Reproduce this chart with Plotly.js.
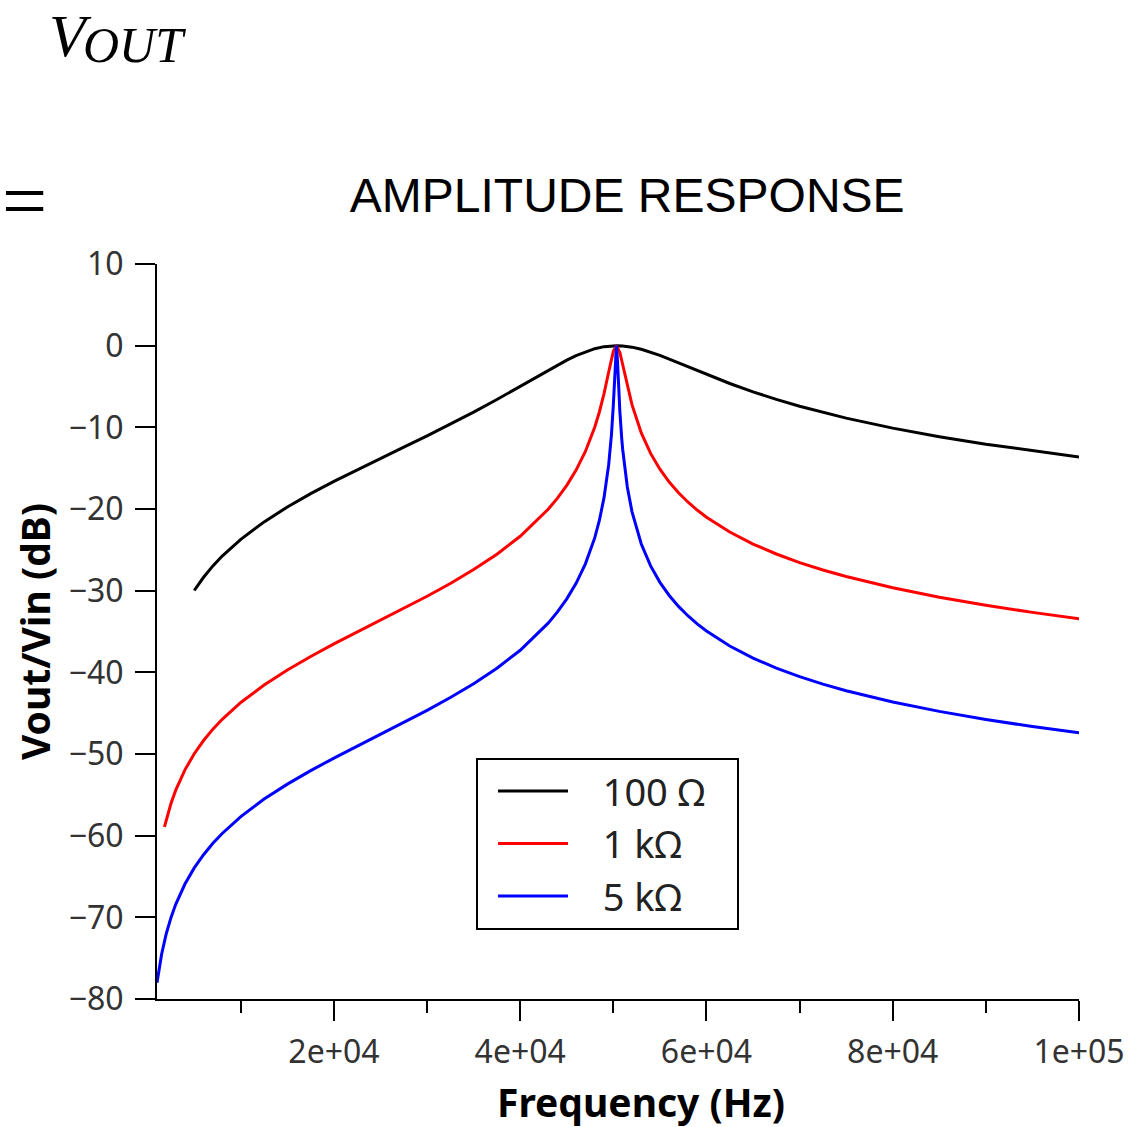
<!DOCTYPE html>
<html>
<head>
<meta charset="utf-8">
<script src="https://cdn.plot.ly/plotly-3.0.1.min.js"></script>
<style>html,body{margin:0;padding:0;background:#fff;}#chart{width:1138px;height:1127px;}</style>
</head>
<body>
<div id="chart"></div>
<script>
// Series names
const seriesNames = ['100 \u03A9', '1 k\u03A9', '5 k\u03A9'];

// Frequency (Hz) and amplitude (dB) for each series
const freq100 = [5000, 6000, 7000, 8000, 10000, 12500, 15000, 17500, 20000, 22500, 25000, 27500, 30000, 32500, 35000, 37500, 40000, 43000, 44000, 45000, 46000, 47000, 48000, 49000, 50000, 50330, 51000, 52000, 53000, 54000, 55000, 56000, 57000, 58000, 59000, 60000, 62500, 65000, 67500, 70000, 72500, 75000, 80000, 85000, 90000, 95000, 100000];
const db100 = [-29.98, -28.36, -26.97, -25.76, -23.71, -21.58, -19.75, -18.12, -16.62, -15.19, -13.80, -12.43, -11.04, -9.62, -8.14, -6.59, -4.98, -3.01, -2.37, -1.77, -1.22, -0.75, -0.37, -0.12, -0.01, 0, -0.03, -0.18, -0.44, -0.79, -1.19, -1.64, -2.10, -2.58, -3.05, -3.52, -4.63, -5.65, -6.58, -7.41, -8.18, -8.87, -10.10, -11.15, -12.07, -12.89, -13.62];

const freq1k = [1800, 2000, 2500, 3000, 4000, 5000, 6000, 7000, 8000, 10000, 12500, 15000, 17500, 20000, 22500, 25000, 27500, 30000, 32500, 35000, 37500, 40000, 43000, 44000, 45000, 46000, 47000, 48000, 48500, 49000, 49500, 49800, 50000, 50330, 50700, 51000, 51500, 52000, 53000, 54000, 55000, 56000, 57000, 58000, 59000, 60000, 62500, 65000, 67500, 70000, 72500, 75000, 80000, 85000, 90000, 95000, 100000];
const db1k = [-58.92, -58.00, -56.06, -54.46, -51.94, -49.97, -48.35, -46.96, -45.75, -43.69, -41.55, -39.71, -38.06, -36.52, -35.06, -33.62, -32.17, -30.68, -29.12, -27.42, -25.53, -23.34, -20.04, -18.67, -17.10, -15.24, -12.96, -9.99, -8.12, -5.87, -3.23, -1.61, -0.69, 0, -0.85, -2.31, -4.93, -7.22, -10.68, -13.19, -15.13, -16.70, -18.01, -19.14, -20.13, -21.00, -22.82, -24.29, -25.51, -26.56, -27.47, -28.27, -29.65, -30.81, -31.79, -32.66, -33.43];

const freq5k = [1000, 1100, 1200, 1500, 2000, 2500, 3000, 4000, 5000, 6000, 7000, 8000, 10000, 12500, 15000, 17500, 20000, 22500, 25000, 27500, 30000, 32500, 35000, 37500, 40000, 43000, 44000, 45000, 46000, 47000, 48000, 48500, 49000, 49500, 49800, 50000, 50100, 50200, 50330, 50450, 50550, 50700, 50900, 51000, 51500, 52000, 53000, 54000, 55000, 56000, 57000, 58000, 59000, 60000, 62500, 65000, 67500, 70000, 72500, 75000, 80000, 85000, 90000, 95000, 100000];
const db5k = [-78.01, -77.18, -76.43, -74.49, -71.98, -70.04, -68.44, -65.92, -63.95, -62.33, -60.94, -59.73, -57.67, -55.52, -53.69, -52.04, -50.50, -49.04, -47.60, -46.15, -44.66, -43.09, -41.40, -39.50, -37.30, -33.98, -32.60, -31.00, -29.10, -26.72, -23.54, -21.40, -18.61, -14.57, -10.86, -7.25, -4.88, -2.19, 0, -1.98, -4.65, -8.05, -11.37, -12.68, -17.31, -20.32, -24.29, -26.97, -28.98, -30.59, -31.93, -33.07, -34.06, -34.94, -36.78, -38.25, -39.48, -40.53, -41.44, -42.25, -43.63, -44.78, -45.77, -46.64, -47.41];

// Tick values and labels
const xTickVals = [20000, 40000, 60000, 80000, 100000];
const xTickText = ['2e+04', '4e+04', '6e+04', '8e+04', '1e+05'];
const xMinorVals = [10000, 30000, 50000, 70000, 90000];
const yTickVals = [-80, -70, -60, -50, -40, -30, -20, -10, 0, 10];
const yTickText = ['\u221280', '\u221270', '\u221260', '\u221250', '\u221240', '\u221230', '\u221220', '\u221210', '0', '10'];

const colors = ['#000000', '#ff0000', '#0000ff'];
const xs = [freq100, freq1k, freq5k];
const ys = [db100, db1k, db5k];
const padL = '\u00A0\u00A0\u00A0';
const padR = '\u00A0\u00A0\u202F';

const traces = xs.map((x, i) => ({
  x: x, y: ys[i], type: 'scatter', mode: 'lines', name: padL + seriesNames[i] + padR,
  line: {color: colors[i], width: 3}
}));

const sans = 'Noto Sans, Open Sans, sans-serif';
const serif = 'Liberation Serif, DejaVu Serif, serif';
const tickFont = {family: sans, size: 32, color: '#333333'};

const layout = {
  width: 1138, height: 1127,
  paper_bgcolor: '#ffffff', plot_bgcolor: '#ffffff',
  margin: {l: 157, r: 59, t: 264, b: 128},
  showlegend: true,
  title: {
    text: 'AMPLITUDE RESPONSE',
    font: {family: 'Liberation Sans, Arial, sans-serif', size: 48, color: '#000000'},
    xref: 'paper', x: 0.51, xanchor: 'center',
    yref: 'container', y: 0.827, yanchor: 'middle'
  },
  xaxis: {
    range: [1000, 100000], showgrid: false, zeroline: false,
    showline: true, linecolor: '#000000', linewidth: 2,
    ticks: 'outside', ticklen: 20, tickwidth: 2, tickcolor: '#000000',
    tickvals: xTickVals, ticktext: xTickText, tickfont: tickFont, ticklabelstandoff: 4,
    minor: {ticks: 'outside', ticklen: 12, tickwidth: 2, tickcolor: '#000000', tickvals: xMinorVals, showgrid: false}
  },
  yaxis: {
    range: [-80, 10], showgrid: false, zeroline: false,
    showline: true, linecolor: '#000000', linewidth: 2,
    ticks: 'outside', ticklen: 20, tickwidth: 2, tickcolor: '#000000',
    tickvals: yTickVals, ticktext: yTickText, tickfont: tickFont, ticklabelstandoff: 5,
    title: {text: '<b>Vout/Vin (dB)</b>', font: {family: sans, size: 39, color: '#000000'}, standoff: 6}
  },
  legend: {
    x: 0.346, y: 0.328, xanchor: 'left', yanchor: 'top',
    bgcolor: '#ffffff', bordercolor: '#000000', borderwidth: 2,
    font: {family: sans, size: 38, color: '#222222'},
    itemwidth: 70, indentation: 15
  },
  annotations: [
    {text: '<b>Frequency (Hz)</b>', xref: 'paper', yref: 'paper', x: 0.525, y: -0.140, xanchor: 'center', yanchor: 'middle', showarrow: false,
     font: {family: sans, size: 39, color: '#000000'}},
    {text: '<i>V</i>', xref: 'paper', yref: 'paper', x: (47 - 157) / 922, y: (999 - 36) / 735, xanchor: 'left', yanchor: 'middle', showarrow: false,
     font: {family: serif, size: 60, color: '#000000'}},
    {text: '<i>OUT</i>', xref: 'paper', yref: 'paper', x: (81 - 157) / 922, y: (999 - 45) / 735, xanchor: 'left', yanchor: 'middle', showarrow: false,
     font: {family: serif, size: 50, color: '#000000'}},
    {text: '=', xref: 'paper', yref: 'paper', x: (0 - 157) / 922, y: (999 - 201) / 735, xanchor: 'left', yanchor: 'middle', showarrow: false,
     font: {family: serif, size: 80, color: '#000000'}}
  ]
};

Plotly.newPlot('chart', traces, layout, {displayModeBar: false, staticPlot: true});
</script>
</body>
</html>
